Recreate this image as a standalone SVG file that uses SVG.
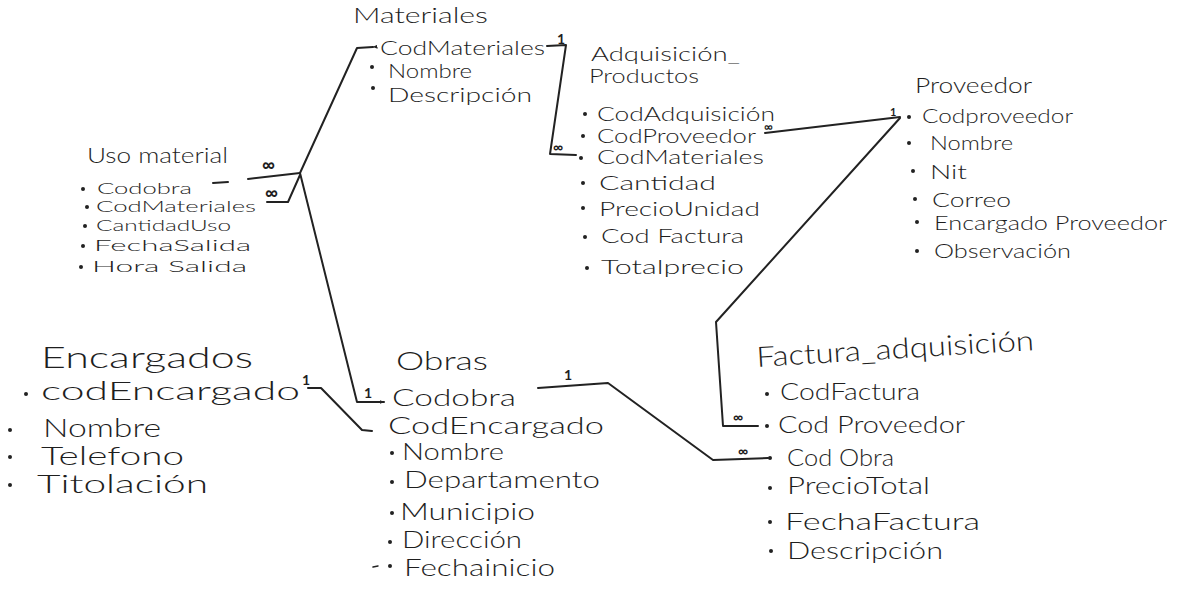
<svg xmlns="http://www.w3.org/2000/svg" width="1181" height="592" viewBox="0 0 1181 592">
<defs>
<style>
text { font-family: Lato, "Liberation Sans", Arial, sans-serif; font-weight: 300; fill: #1e1e1e; }
.s16 { font-size: 16px; }
.s19 { font-size: 19px; }
.s20 { font-size: 20px; }
.s22 { font-size: 22px; }
.s23 { font-size: 23px; }
.s24 { font-size: 24px; }
.s25 { font-size: 25px; }
.s28 { font-size: 28px; }
.s30 { font-size: 30px; }
.card { font-size: 14px; font-weight: bold; }
.inf { font-size: 18px; font-weight: bold; }
.dot { fill: #222; }
.c { fill: none; stroke: #222; stroke-width: 2; stroke-linecap: round; stroke-linejoin: round; }
</style>
<marker id="arr" viewBox="0 0 10 10" refX="9" refY="5" markerWidth="5" markerHeight="5" orient="auto" markerUnits="userSpaceOnUse">
<path d="M0,1 L10,5 L0,9 z" fill="#222"/>
</marker>
</defs>
<rect width="1181" height="592" fill="#ffffff"/>

<g id="connectors">
<!-- Materiales - Uso material / Obras -->
<polyline class="c" points="373,47 357,48 300,173" marker-start="url(#arr)"/>
<line class="c" x1="248" y1="179" x2="300" y2="173"/>
<polyline class="c" points="267,202 288,202 300,175"/>
<polyline class="c" points="300,173 357,402 384,402" marker-end="url(#arr)"/>
<text class="inf" x="262" y="171">∞</text>
<text class="inf" x="265" y="199">∞</text>
<text class="card" x="364" y="398">1</text>
<!-- Materiales - Adquisicion -->
<polyline class="c" points="547,46 566,45 550,154 576,155"/>
<text class="card" x="557" y="44">1</text>
<text class="card" x="553" y="152">∞</text>
<!-- Adquisicion - Proveedor -->
<line class="c" x1="765" y1="133" x2="900" y2="117"/>
<text class="card" x="764" y="131" style="font-size:12px">∞</text>
<text class="card" x="890" y="116" style="font-size:11px">1</text>
<!-- Proveedor - Factura -->
<polyline class="c" points="900,118 716,322 723,426 758,426"/>
<text class="card" x="733" y="422">∞</text>
<!-- Encargados - Obras -->
<polyline class="c" points="308,388 321,388 362,430 372,431"/>
<text class="card" x="302" y="385">1</text>
<!-- Obras - Factura -->
<polyline class="c" points="538,388 608,383 713,460 768,458"/>
<circle class="dot" cx="770" cy="458" r="2"/>
<text class="card" x="564" y="380">1</text>
<text class="card" x="738" y="456">∞</text>
</g>

<g id="materiales">
<text class="s22" x="353" y="23" textLength="135" lengthAdjust="spacingAndGlyphs">Materiales</text>
<text class="s20" x="380" y="55" textLength="165" lengthAdjust="spacingAndGlyphs">CodMateriales</text>
<circle class="dot" cx="372" cy="67" r="2"/>
<text class="s20" x="388" y="78" textLength="84" lengthAdjust="spacingAndGlyphs">Nombre</text>
<circle class="dot" cx="373" cy="88" r="2"/>
<text class="s20" x="388" y="102" textLength="144" lengthAdjust="spacingAndGlyphs">Descripción</text>
</g>

<g id="uso-material">
<text class="s22" x="87" y="163" textLength="141" lengthAdjust="spacingAndGlyphs">Uso material</text>
<circle class="dot" cx="83" cy="189" r="2"/>
<text class="s16" x="97" y="194" textLength="95" lengthAdjust="spacingAndGlyphs">Codobra</text>
<line class="c" x1="213" y1="183" x2="228" y2="182"/>
<circle class="dot" cx="87" cy="207" r="2"/>
<text class="s16" x="96" y="212" textLength="160" lengthAdjust="spacingAndGlyphs">CodMateriales</text>
<circle class="dot" cx="85" cy="226" r="2"/>
<text class="s16" x="96" y="231" textLength="135" lengthAdjust="spacingAndGlyphs">CantidadUso</text>
<circle class="dot" cx="83" cy="246" r="2"/>
<text class="s16" x="94" y="251" textLength="157" lengthAdjust="spacingAndGlyphs">FechaSalida</text>
<circle class="dot" cx="81" cy="267" r="2"/>
<text class="s16" x="92" y="272" textLength="155" lengthAdjust="spacingAndGlyphs">Hora Salida</text>
</g>

<g id="adquisicion-productos">
<text class="s19" x="591" y="61" textLength="149" lengthAdjust="spacingAndGlyphs">Adquisición_</text>
<text class="s19" x="589" y="83" textLength="110" lengthAdjust="spacingAndGlyphs">Productos</text>
<circle class="dot" cx="585" cy="114" r="2"/>
<text class="s19" x="597" y="121" textLength="178" lengthAdjust="spacingAndGlyphs">CodAdquisición</text>
<circle class="dot" cx="583" cy="136" r="2"/>
<text class="s19" x="597" y="143" textLength="159" lengthAdjust="spacingAndGlyphs">CodProveedor</text>
<circle class="dot" cx="581" cy="158" r="2"/>
<text class="s19" x="597" y="164" textLength="167" lengthAdjust="spacingAndGlyphs">CodMateriales</text>
<circle class="dot" cx="583" cy="183" r="2"/>
<text class="s20" x="599" y="190" textLength="117" lengthAdjust="spacingAndGlyphs">Cantidad</text>
<circle class="dot" cx="583" cy="208" r="2"/>
<text class="s20" x="599" y="216" textLength="161" lengthAdjust="spacingAndGlyphs">PrecioUnidad</text>
<circle class="dot" cx="585" cy="237" r="2"/>
<text class="s20" x="601" y="243" textLength="143" lengthAdjust="spacingAndGlyphs">Cod Factura</text>
<circle class="dot" cx="587" cy="268" r="2"/>
<text class="s20" x="601" y="274" textLength="143" lengthAdjust="spacingAndGlyphs">Totalprecio</text>
</g>

<g id="proveedor">
<text class="s22" x="915" y="93" textLength="117" lengthAdjust="spacingAndGlyphs">Proveedor</text>
<circle class="dot" cx="909" cy="117" r="2"/>
<text class="s20" x="922" y="123" textLength="151" lengthAdjust="spacingAndGlyphs">Codproveedor</text>
<circle class="dot" cx="909" cy="143" r="2"/>
<text class="s20" x="930" y="150" textLength="83" lengthAdjust="spacingAndGlyphs">Nombre</text>
<circle class="dot" cx="913" cy="171" r="2"/>
<text class="s20" x="930" y="179" textLength="37" lengthAdjust="spacingAndGlyphs">Nit</text>
<circle class="dot" cx="915" cy="199" r="2"/>
<text class="s20" x="932" y="207" textLength="79" lengthAdjust="spacingAndGlyphs">Correo</text>
<circle class="dot" cx="917" cy="222" r="2"/>
<text class="s20" x="934" y="230" textLength="233" lengthAdjust="spacingAndGlyphs">Encargado Proveedor</text>
<circle class="dot" cx="917" cy="251" r="2"/>
<text class="s20" x="934" y="258" textLength="137" lengthAdjust="spacingAndGlyphs">Observación</text>
</g>

<g id="encargados">
<text class="s30" x="41" y="368" textLength="212" lengthAdjust="spacingAndGlyphs">Encargados</text>
<circle class="dot" cx="26" cy="394" r="2"/>
<text class="s25" x="41" y="400" textLength="259" lengthAdjust="spacingAndGlyphs">codEncargado</text>
<circle class="dot" cx="10" cy="430" r="2"/>
<text class="s25" x="43" y="437" textLength="118" lengthAdjust="spacingAndGlyphs">Nombre</text>
<circle class="dot" cx="10" cy="457" r="2"/>
<text class="s25" x="41" y="465" textLength="143" lengthAdjust="spacingAndGlyphs">Telefono</text>
<circle class="dot" cx="10" cy="485" r="2"/>
<text class="s25" x="37" y="493" textLength="171" lengthAdjust="spacingAndGlyphs">Titolación</text>
</g>

<g id="obras">
<text class="s25" x="396" y="370" textLength="92" lengthAdjust="spacingAndGlyphs">Obras</text>
<text class="s23" x="392" y="406" textLength="124" lengthAdjust="spacingAndGlyphs">Codobra</text>
<text class="s23" x="388" y="434" textLength="216" lengthAdjust="spacingAndGlyphs">CodEncargado</text>
<circle class="dot" cx="392" cy="453" r="2"/>
<text class="s23" x="402" y="460" textLength="102" lengthAdjust="spacingAndGlyphs">Nombre</text>
<circle class="dot" cx="392" cy="482" r="2"/>
<text class="s23" x="404" y="488" textLength="196" lengthAdjust="spacingAndGlyphs">Departamento</text>
<circle class="dot" cx="392" cy="513" r="2"/>
<text class="s23" x="400" y="520" textLength="135" lengthAdjust="spacingAndGlyphs">Municipio</text>
<circle class="dot" cx="390" cy="542" r="2"/>
<text class="s23" x="402" y="548" textLength="120" lengthAdjust="spacingAndGlyphs">Dirección</text>
<line class="c" x1="373" y1="567" x2="378" y2="566" style="stroke-width:1.5"/>
<circle class="dot" cx="390" cy="566" r="2"/>
<text class="s23" x="404" y="576" textLength="151" lengthAdjust="spacingAndGlyphs">Fechainicio</text>
</g>

<g id="factura-adquisicion">
<text class="s28" x="757" y="367" textLength="278" lengthAdjust="spacingAndGlyphs" transform="rotate(-3.5 757 367)">Factura_adquisición</text>
<circle class="dot" cx="767" cy="394" r="2"/>
<text class="s24" x="780" y="400" textLength="140" lengthAdjust="spacingAndGlyphs">CodFactura</text>
<circle class="dot" cx="767" cy="426" r="2"/>
<text class="s24" x="778" y="433" textLength="187" lengthAdjust="spacingAndGlyphs">Cod Proveedor</text>
<text class="s24" x="787" y="466" textLength="107" lengthAdjust="spacingAndGlyphs">Cod Obra</text>
<circle class="dot" cx="770" cy="488" r="2"/>
<text class="s24" x="787" y="494" textLength="143" lengthAdjust="spacingAndGlyphs">PrecioTotal</text>
<circle class="dot" cx="770" cy="522" r="2"/>
<text class="s23" x="785" y="530" textLength="195" lengthAdjust="spacingAndGlyphs">FechaFactura</text>
<circle class="dot" cx="771" cy="551" r="2"/>
<text class="s23" x="787" y="559" textLength="156" lengthAdjust="spacingAndGlyphs">Descripción</text>
</g>
</svg>
